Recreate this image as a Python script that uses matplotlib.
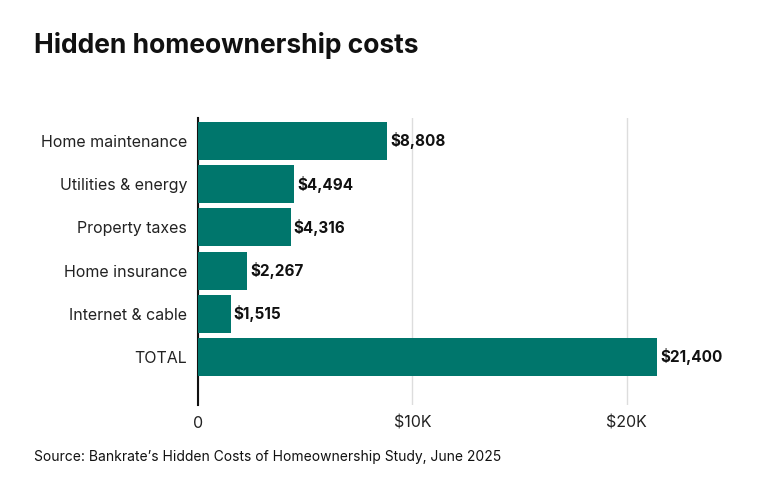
import matplotlib.pyplot as plt

categories = ["Home maintenance", "Utilities & energy", "Property taxes",
              "Home insurance", "Internet & cable", "TOTAL"]
costs = [8808, 4494, 4316, 2267, 1515, 21400]
tick_vals = [0, 10000, 20000]
tick_labels = ["0", "$10K", "$20K"]

plt.rcParams['font.family'] = ['Inter', 'DejaVu Sans']
fig = plt.figure(figsize=(7.62, 4.82), dpi=100)
ax = fig.add_axes([0.26, 0.16, 0.647, 0.595])

pos = list(range(len(categories)))
ax.barh(pos, costs, height=0.88, color='#00766C', zorder=3)
for p, v in zip(pos, costs):
    ax.text(v + 150, p, f"${v:,}", va='center', ha='left',
            fontsize=11, fontweight='bold', color='#111111')

ax.set_ylim(6.11, -0.53)
ax.set_xlim(0, 23000)
ax.set_yticks(pos)
ax.set_yticklabels(categories, fontsize=11.5, color='#222222')
ax.set_xticks(tick_vals)
ax.set_xticklabels(tick_labels, fontsize=11.5, color='#222222')
ax.tick_params(length=0, pad=8)
ax.grid(axis='x', color='#dddddd', linewidth=1, zorder=0)
for s in ['top', 'right', 'bottom']:
    ax.spines[s].set_visible(False)
ax.spines['left'].set_linewidth(1.5)
ax.spines['left'].set_color('#111111')

fig.text(0.045, 0.905, "Hidden homeownership costs", fontsize=19,
         fontweight='bold', color='#111111', va='center')
fig.text(0.045, 0.052, "Source: Bankrate’s Hidden Costs of Homeownership Study, June 2025",
         fontsize=10, color='#111111', va='center')

fig.savefig("out.png", dpi=100)
